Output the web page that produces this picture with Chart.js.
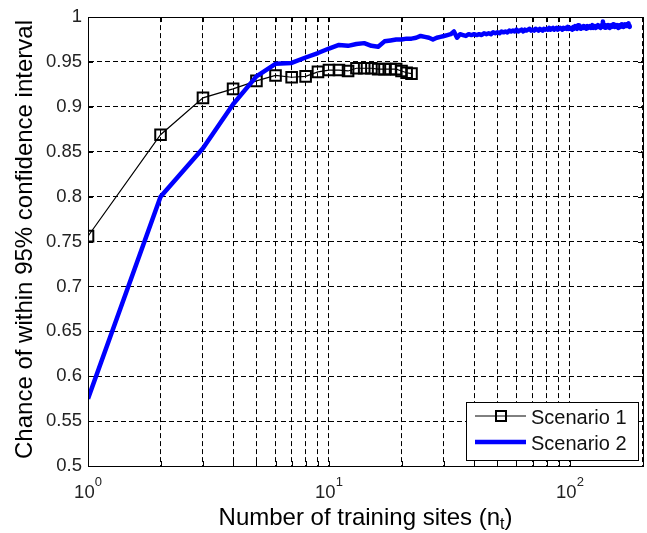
<!DOCTYPE html>
<html><head><meta charset="utf-8">
<script src="https://cdn.jsdelivr.net/npm/chart.js@4"></script>
<style>
html,body{margin:0;padding:0;background:#fff;overflow:hidden;}
#wrap{position:relative;width:652px;height:533px;}
</style></head><body>
<div id="wrap"><canvas id="c"></canvas></div>
<script>
// ---- data ----
const scenario1X = [1,2,3,4,5,6,7,8,9,10,11,12,13,14,15,16,17,18,19,20,21,22];
const scenario1Y = [0.756,0.869,0.910,0.920,0.929,0.935,0.933,0.934,0.939,0.941,0.941,0.940,0.943,0.943,0.943,0.942,0.942,0.942,0.942,0.940,0.938,0.937];

const scenario2X = [1,2,3,4,5,6,7,8,9,10,11,12,13,14,15,16,17,18,19,20,
21,22,23,24,25,26,27,28,29,30,31,32,33,34,35,36,37,38,39,40,
41,42,43,44,45,46,47,48,49,50,51,52,53,54,55,56,57,58,59,60,
61,62,63,64,65,66,67,68,69,70,71,72,73,74,75,76,77,78,79,80,
81,82,83,84,85,86,87,88,89,90,91,92,93,94,95,96,97,98,99,100,
101,102,103,104,105,106,107,108,109,110,111,112,113,114,115,116,117,118,119,120,
121,122,123,124,125,126,127,128,129,130,131,132,133,134,135,136,137,138,139,140,
141,142,143,144,145,146,147,148,149,150,151,152,153,154,155,156,157,158,159,160,
161,162,163,164,165,166,167,168,169,170,171,172,173,174,175,176,177];
const scenario2Y = [0.575,0.800,0.854,0.903,0.934,0.948,0.949,0.955,0.960,0.965,
0.969,0.968,0.970,0.971,0.968,0.967,0.973,0.974,0.975,0.975,
0.976,0.976,0.977,0.979,0.978,0.977,0.975,0.977,0.978,0.979,
0.980,0.981,0.984,0.977,0.981,0.980,0.979,0.981,0.980,0.981,
0.980,0.981,0.980,0.982,0.981,0.982,0.981,0.983,0.982,0.983,
0.982,0.984,0.983,0.984,0.983,0.985,0.984,0.985,0.984,0.986,
0.984,0.985,0.986,0.984,0.986,0.985,0.986,0.987,0.985,0.986,
0.985,0.987,0.986,0.985,0.987,0.986,0.985,0.987,0.986,0.987,
0.986,0.988,0.986,0.987,0.988,0.986,0.987,0.988,0.986,0.987,
0.988,0.987,0.986,0.988,0.987,0.988,0.987,0.989,0.987,0.988,
0.987,0.986,0.989,0.987,0.990,0.988,0.987,0.991,0.988,0.990,
0.987,0.989,0.988,0.990,0.988,0.989,0.987,0.990,0.988,0.989,
0.990,0.988,0.989,0.991,0.988,0.990,0.989,0.988,0.990,0.989,
0.991,0.989,0.990,0.988,0.991,0.990,0.995,0.989,0.990,0.988,
0.991,0.989,0.990,0.991,0.989,0.988,0.990,0.991,0.989,0.990,
0.992,0.990,0.989,0.991,0.990,0.989,0.991,0.990,0.988,0.990,
0.991,0.989,0.990,0.992,0.990,0.991,0.989,0.990,0.992,0.991,
0.990,0.992,0.990,0.991,0.993,0.990,0.989];

const seriesNames = ['Scenario 1', 'Scenario 2'];
const xGridValues = [1,2,3,4,5,6,7,8,9,10,20,30,40,50,60,70,80,90,100,200];
const xTickValues = [1, 10, 100];
const xTickBase = '10';
const xTickExponents = ['0', '1', '2'];
const xTitle = 'Number of training sites (n';
const xTitleSub = 't';
const yTitle = 'Chance of within 95% confidence interval';

const FONT = '"Liberation Sans", Arial, Helvetica, sans-serif';

const matlabPlugin = {
  id: 'matlab',
  afterDatasetsDraw(chart) {
    const {ctx, chartArea: a, scales: {x, y}} = chart;
    const L = Math.round(a.left), R = Math.round(a.right), T = Math.round(a.top), B = Math.round(a.bottom);
    ctx.save();
    ctx.setLineDash([]);
    ctx.strokeStyle = '#000';
    ctx.lineWidth = 1;
    ctx.beginPath();
    x.ticks.forEach(t => {
      const px = Math.round(x.getPixelForValue(t.value)) + 0.5;
      ctx.moveTo(px, B); ctx.lineTo(px, B - 5);
      ctx.moveTo(px, T); ctx.lineTo(px, T + 5);
    });
    y.ticks.forEach(t => {
      const py = Math.round(y.getPixelForValue(t.value)) + 0.5;
      ctx.moveTo(L, py); ctx.lineTo(L + 5, py);
      ctx.moveTo(R, py); ctx.lineTo(R - 5, py);
    });
    ctx.stroke();
    ctx.strokeRect(L + 0.5, T + 0.5, R - L, B - T);

    // x tick labels
    ctx.fillStyle = '#222';
    ctx.textBaseline = 'alphabetic';
    ctx.textAlign = 'left';
    xTickValues.forEach((v, i) => {
      const px = x.getPixelForValue(v);
      ctx.font = '18.5px ' + FONT;
      const wb = ctx.measureText(xTickBase).width;
      ctx.font = '13px ' + FONT;
      const we = ctx.measureText(xTickExponents[i]).width;
      const start = px - (wb + we) / 2;
      ctx.font = '18.5px ' + FONT;
      ctx.fillText(xTickBase, start, B + 32);
      ctx.font = '13px ' + FONT;
      ctx.fillText(xTickExponents[i], start + wb, B + 20);
    });

    // x title
    ctx.fillStyle = '#000';
    ctx.font = '24px ' + FONT;
    const w1 = ctx.measureText(xTitle).width;
    ctx.font = '16px ' + FONT;
    const w2 = ctx.measureText(xTitleSub).width;
    ctx.font = '24px ' + FONT;
    const w3 = ctx.measureText(')').width;
    const cx = (L + R) / 2;
    let sx = cx - (w1 + w2 + w3) / 2;
    const by = B + 59;
    ctx.fillText(xTitle, sx, by);
    ctx.font = '16px ' + FONT;
    ctx.fillText(xTitleSub, sx + w1, by + 4);
    ctx.font = '24px ' + FONT;
    ctx.fillText(')', sx + w1 + w2, by);

    // y title
    ctx.save();
    ctx.translate(31.5, (T + B) / 2 - 2);
    ctx.rotate(-Math.PI / 2);
    ctx.textAlign = 'center';
    ctx.font = '24px ' + FONT;
    ctx.fillText(yTitle, 0, 0);
    ctx.restore();

    // legend
    const bw = 172, bh = 58;
    const bx = R - 5 - bw, byy = B - 6 - bh;
    ctx.fillStyle = '#fff';
    ctx.fillRect(bx, byy, bw, bh);
    ctx.strokeStyle = '#000';
    ctx.lineWidth = 1;
    ctx.strokeRect(bx + 0.5, byy + 0.5, bw, bh);
    const r1 = byy + 14, r2 = byy + 40;
    ctx.beginPath();
    ctx.moveTo(bx + 9, r1); ctx.lineTo(bx + 60, r1);
    ctx.stroke();
    ctx.lineWidth = 2;
    ctx.strokeRect(bx + 30, r1 - 5, 10, 10);
    ctx.strokeStyle = '#0000ff';
    ctx.lineWidth = 4.5;
    ctx.beginPath();
    ctx.moveTo(bx + 9, r2); ctx.lineTo(bx + 60, r2);
    ctx.stroke();
    ctx.fillStyle = '#111';
    ctx.font = '20px ' + FONT;
    ctx.textAlign = 'left';
    ctx.textBaseline = 'middle';
    ctx.fillText(seriesNames[0], bx + 65, r1 + 2);
    ctx.fillText(seriesNames[1], bx + 65, r2 + 2);
    ctx.restore();
  }
};

new Chart(document.getElementById('c'), {
  type: 'line',
  data: {
    datasets: [
      {
        label: seriesNames[0],
        data: scenario1X.map((v, i) => ({x: v, y: scenario1Y[i]})),
        borderColor: '#000',
        borderWidth: 1.2,
        pointStyle: 'rect',
        pointRadius: 7.5,
        pointBorderWidth: 2,
        pointBorderColor: '#000',
        pointBackgroundColor: 'rgba(0,0,0,0)',
        fill: false,
        order: 1
      },
      {
        label: seriesNames[1],
        data: scenario2X.map((v, i) => ({x: v, y: scenario2Y[i]})),
        borderColor: '#0000ff',
        borderWidth: 4.5,
        borderJoinStyle: 'round',
        pointRadius: 0,
        fill: false,
        order: 0
      }
    ]
  },
  options: {
    responsive: true,
    maintainAspectRatio: false,
    animation: false,
    devicePixelRatio: 1,
    layout: {padding: {top: 17, right: 2.5, bottom: 0, left: 0}},
    plugins: {legend: {display: false}, tooltip: {enabled: false}},
    scales: {
      x: {
        type: 'logarithmic',
        min: 1, max: 200,
        afterBuildTicks: s => { s.ticks = xGridValues.map(v => ({value: v, major: xTickValues.includes(v)})); },
        afterFit: s => { s.height = 67; },
        ticks: {display: false},
        grid: {color: '#000', lineWidth: 1, drawTicks: false},
        border: {display: true, color: '#000', width: 1, dash: [5, 3]}
      },
      y: {
        min: 0.5, max: 1,
        afterFit: s => { s.width = 88; },
        ticks: {
          stepSize: 0.05,
          padding: 6,
          color: '#222',
          font: {family: FONT, size: 18.5},
          callback: v => parseFloat(v.toFixed(2)).toString()
        },
        grid: {color: '#000', lineWidth: 1, drawTicks: false},
        border: {display: true, color: '#000', width: 1, dash: [5, 3]}
      }
    }
  },
  plugins: [matlabPlugin]
});
</script>
</body></html>
